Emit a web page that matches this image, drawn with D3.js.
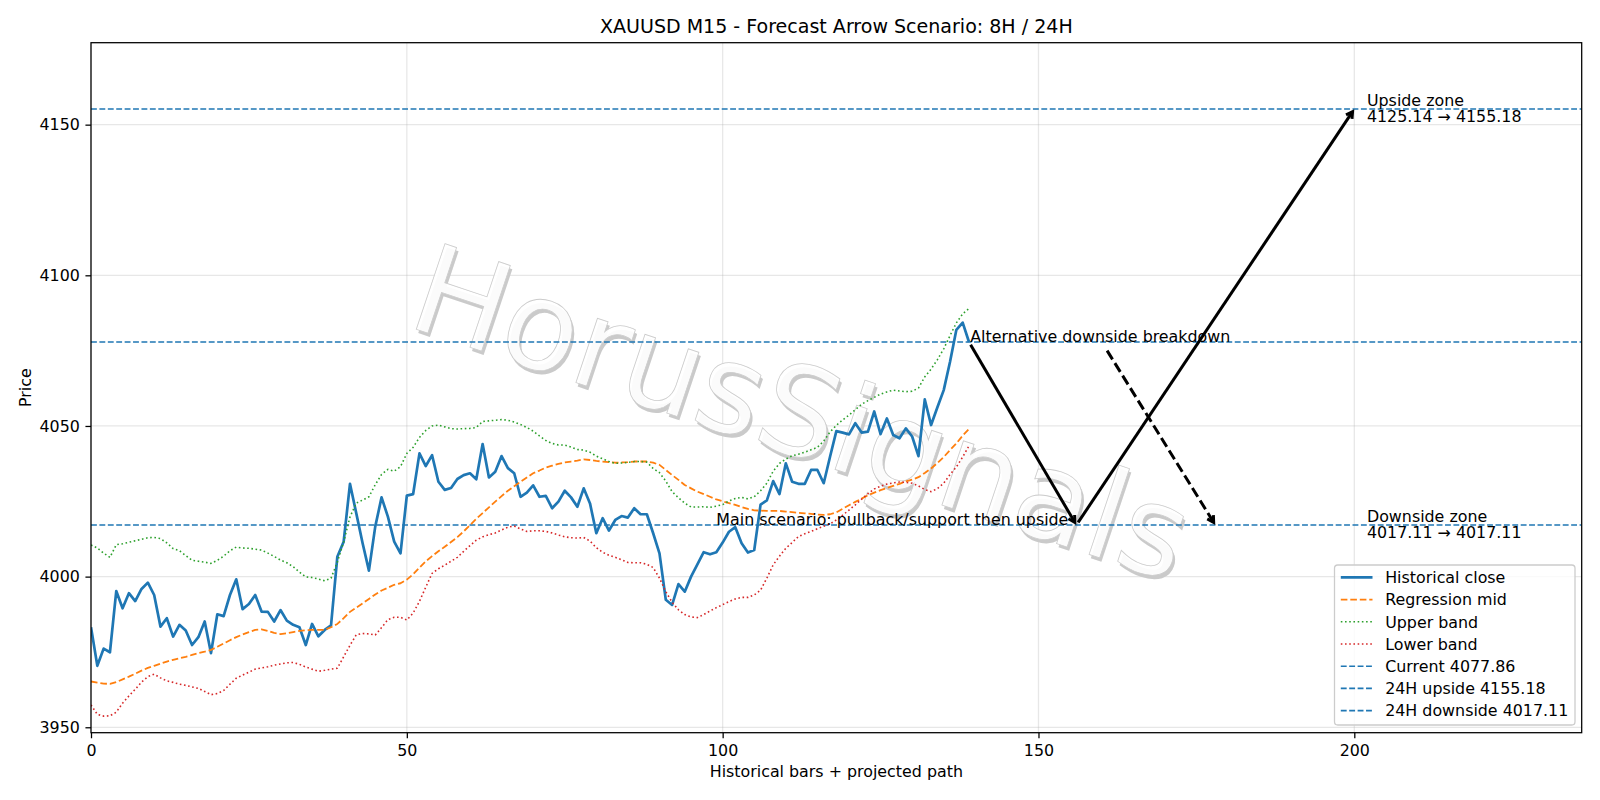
<!DOCTYPE html>
<html>
<head>
<meta charset="utf-8">
<script src="https://cdn.jsdelivr.net/npm/d3@7"></script>
<style>
  body { margin: 0; background: #fff; }
  svg { display: block; }
  text { font-family: 'DejaVu Sans', sans-serif; }
</style>
</head>
<body>
<svg width="1600" height="800"></svg>
<script>
	// ---- data ----
	var closeVals = [3983.2,3970.4,3976.1,3974.9,3995.2,3989.5,3994.5,3991.9,3995.9,3998.0,
		3993.9,3983.4,3986.2,3980.1,3984.0,3982.1,3977.3,3979.9,3985.1,3974.6,
		3987.5,3986.9,3993.9,3999.1,3989.2,3990.9,3993.9,3988.4,3988.3,3985.1,
		3988.9,3985.4,3984.0,3983.2,3977.3,3984.3,3980.2,3982.3,3983.8,4006.6,
		4011.6,4030.8,4021.0,4011.1,4002.0,4016.6,4026.3,4019.9,4011.6,4007.7,
		4026.9,4027.4,4040.9,4036.7,4040.3,4031.5,4028.8,4029.4,4032.4,4033.7,
		4034.3,4032.3,4044.0,4032.9,4034.8,4040.0,4036.0,4034.3,4026.5,4027.9,
		4030.3,4026.5,4026.8,4022.7,4024.9,4028.5,4026.3,4023.2,4029.3,4024.3,
		4014.4,4019.4,4015.3,4018.8,4020.1,4019.6,4022.7,4020.7,4020.7,4014.4,
		4007.7,3992.3,3990.6,3997.5,3995.0,4000.0,4004.1,4008.1,4007.4,4008.1,
		4011.3,4014.9,4016.4,4011.1,4008.0,4008.8,4023.9,4025.3,4031.7,4027.4,
		4037.6,4031.5,4030.8,4030.8,4035.4,4035.4,4031.0,4039.8,4048.3,4047.8,
		4047.2,4050.9,4047.8,4048.1,4054.8,4047.3,4052.5,4047.0,4045.9,4049.2,
		4046.5,4040.0,4058.8,4050.3,4056.2,4061.9,4071.3,4081.9,4084.3,4077.86];

	var midVals = [3965.2,3964.8,3964.5,3964.4,3965.0,3965.9,3966.8,3967.8,3968.8,3969.7,
		3970.4,3971.1,3971.8,3972.4,3972.9,3973.4,3974.0,3974.6,3975.1,3975.7,
		3976.7,3977.8,3978.9,3979.9,3980.8,3981.6,3982.3,3982.5,3982.0,3981.3,
		3980.9,3981.2,3981.6,3982.0,3982.2,3982.3,3982.3,3982.3,3983.2,3984.3,
		3986.2,3988.3,3989.7,3991.1,3992.6,3994.1,3995.4,3996.3,3997.3,3997.8,
		3999.0,4000.8,4003.0,4005.1,4006.8,4008.4,4009.9,4011.5,4013.1,4015.0,
		4017.1,4019.2,4021.1,4023.0,4024.9,4026.7,4028.5,4030.0,4031.5,4032.9,
		4034.3,4035.2,4036.2,4036.8,4037.4,4037.9,4038.2,4038.5,4038.9,4038.7,
		4038.4,4038.2,4038.0,4037.8,4037.9,4038.0,4038.2,4038.2,4038.2,4037.8,
		4037.1,4035.4,4033.7,4032.1,4030.4,4029.3,4028.2,4027.4,4026.5,4025.6,
		4025.0,4024.4,4023.8,4023.1,4022.5,4022.0,4021.9,4021.8,4021.8,4021.8,
		4021.6,4021.4,4021.2,4021.0,4020.8,4020.6,4020.5,4020.7,4021.3,4022.5,
		4023.7,4024.8,4025.9,4027.0,4027.9,4028.7,4029.4,4030.1,4030.8,4031.6,
		4032.2,4033.0,4034.4,4035.9,4037.7,4039.7,4042.0,4044.2,4046.8,4049.0];

	var upperVals = [4010.5,4009.5,4007.8,4006.4,4010.6,4010.9,4011.4,4011.9,4012.4,4012.9,
		4013.0,4012.6,4011.2,4009.3,4008.6,4007.0,4005.4,4005.1,4004.8,4004.4,
		4005.4,4006.8,4008.6,4009.8,4009.5,4009.4,4009.1,4008.8,4007.8,4006.7,
		4005.5,4004.6,4003.3,4001.5,3999.9,3999.7,3999.2,3998.6,3999.5,4004.8,
		4011.5,4019.8,4024.4,4025.4,4026.5,4030.5,4033.9,4035.6,4035.0,4036.5,
		4040.9,4042.9,4046.2,4048.5,4050.0,4050.3,4049.7,4049.1,4049.0,4049.1,
		4049.2,4049.5,4051.5,4051.7,4051.9,4052.1,4051.9,4051.3,4050.5,4049.5,
		4048.3,4046.7,4045.2,4044.2,4043.7,4043.7,4043.0,4042.2,4042.0,4041.3,
		4040.0,4039.1,4038.2,4037.6,4037.7,4037.9,4038.2,4038.2,4038.0,4035.9,
		4034.5,4031.7,4028.2,4026.2,4024.4,4023.1,4023.1,4023.2,4023.0,4023.4,
		4023.9,4025.1,4025.9,4026.3,4025.8,4026.5,4028.5,4031.0,4035.0,4037.6,
		4039.0,4040.1,4040.6,4041.3,4042.1,4042.9,4045.0,4048.0,4050.2,4052.0,
		4053.6,4055.4,4057.2,4058.4,4059.5,4060.6,4061.3,4061.9,4061.6,4061.4,
		4061.5,4062.6,4066.3,4068.9,4072.0,4075.6,4080.0,4084.2,4087.2,4089.0];

	var lowerVals = [3957.4,3954.3,3953.7,3953.8,3955.0,3958.0,3960.4,3962.6,3965.0,3966.8,
		3967.6,3966.4,3965.4,3964.9,3964.3,3963.9,3963.4,3962.9,3961.9,3960.8,
		3961.2,3962.2,3964.3,3966.3,3967.3,3968.3,3969.3,3969.7,3970.1,3970.6,
		3971.0,3971.4,3971.5,3970.9,3970.0,3969.3,3968.6,3968.9,3969.3,3969.6,
		3973.4,3977.2,3980.7,3981.1,3981.0,3980.6,3983.1,3985.7,3986.5,3986.5,
		3985.6,3987.9,3991.8,3996.5,4001.1,4002.6,4003.8,4005.1,4006.4,4008.4,
		4010.3,4012.1,4013.2,4013.9,4014.5,4015.5,4016.4,4016.8,4015.8,4015.0,
		4015.2,4015.2,4015.0,4014.5,4013.8,4013.2,4012.9,4012.8,4013.0,4011.8,
		4009.6,4008.1,4007.1,4006.4,4005.6,4004.7,4004.6,4004.6,4004.1,4003.0,
		3999.5,3995.0,3991.5,3989.0,3987.4,3986.6,3986.4,3987.4,3988.6,3989.7,
		3990.7,3991.7,3992.6,3993.1,3993.1,3993.9,3995.5,3999.5,4003.9,4006.8,
		4009.4,4011.3,4013.3,4014.2,4015.0,4015.9,4016.7,4017.5,4018.8,4020.4,
		4022.1,4023.8,4025.7,4027.5,4029.1,4030.0,4030.7,4031.1,4031.4,4031.3,
		4031.0,4030.1,4028.9,4028.2,4029.2,4031.0,4033.9,4036.4,4039.7,4043.4];

	var currentPrice = 4077.86;
	var upside24 = 4155.18, upsideStart = 4125.14;
	var downside24 = 4017.11, downsideStart = 4017.11;

	var xTicks = [0, 50, 100, 150, 200];
	var yTicks = [3950, 4000, 4050, 4100, 4150];

	// projected path arrows in data coords
	var arrows = [
		{x1: 139, y1: currentPrice, x2: 156, y2: downside24, dashed: false},
		{x1: 156, y1: downside24, x2: 200, y2: upside24, dashed: false},
		{x1: 160.6, y1: 4075.9, x2: 178, y2: downside24, dashed: true}
	];

	var notes = [
		{x: 139.2, y: currentPrice, lines: ['Alternative downside breakdown']},
		{x: 99, y: downside24, lines: ['Main scenario: pullback/support then upside']},
		{x: 202, y: upside24, lines: ['Upside zone', upsideStart.toFixed(2) + ' \u2192 ' + upside24.toFixed(2)], center: true},
		{x: 202, y: downside24, lines: ['Downside zone', downsideStart.toFixed(2) + ' \u2192 ' + downside24.toFixed(2)], center: true}
	];

	// ---- layout ----
	var axL = 91, axR = 1581.7, axT = 42.7, axB = 732.7;
	var fs = 15.87; // 10pt at the figure's dpi

	var svg = d3.select('svg');
	var x = d3.scaleLinear().domain([0, 236]).range([axL, axR]);
	var y = d3.scaleLinear().domain([3948.2, 4177.2]).range([axB, axT]);

	svg.append('defs').append('clipPath').attr('id', 'clip')
		.append('rect').attr('x', axL).attr('y', axT)
		.attr('width', axR - axL).attr('height', axB - axT);

	/* --------- GRID --------- */
	var grid = svg.append('g').attr('stroke', '#b0b0b0').attr('stroke-opacity', 0.3).attr('stroke-width', 1.27);
	grid.selectAll('line.gx').data(xTicks).enter().append('line')
		.attr('x1', function (d) { return x(d); }).attr('x2', function (d) { return x(d); })
		.attr('y1', axT).attr('y2', axB);
	grid.selectAll('line.gy').data(yTicks).enter().append('line')
		.attr('y1', function (d) { return y(d); }).attr('y2', function (d) { return y(d); })
		.attr('x1', axL).attr('x2', axR);

	/* --------- WATERMARK --------- */
	var wm = svg.append('g').attr('transform', 'translate(802,413) rotate(18.5)')
		.attr('font-size', 124).attr('text-anchor', 'middle').attr('dominant-baseline', 'central');
	wm.append('text').attr('x', 3).attr('y', 3).attr('fill', '#cacaca').text('HorusSignals');
	wm.append('text').attr('fill', '#ffffff').attr('fill-opacity', 0.92)
		.attr('stroke', '#cccccc').attr('stroke-width', 0.8).text('HorusSignals');

	/* --------- SERIES --------- */
	var plot = svg.append('g').attr('clip-path', 'url(#clip)');
	var line = d3.line().x(function (d, i) { return x(i); }).y(function (d) { return y(d); });

	var series = [
		{vals: closeVals, color: '#1f77b4', width: 2.7, dash: null},
		{vals: midVals, color: '#ff7f0e', width: 1.8, dash: '6.6,2.9'},
		{vals: upperVals, color: '#2ca02c', width: 1.59, dash: '1.59,2.62'},
		{vals: lowerVals, color: '#d62728', width: 1.59, dash: '1.59,2.62'}
	];

	var levels = [currentPrice, upside24, downside24];
	plot.selectAll('line.level').data(levels).enter().append('line')
		.attr('class', 'level')
		.attr('x1', axL).attr('x2', axR)
		.attr('y1', function (d) { return y(d); }).attr('y2', function (d) { return y(d); })
		.attr('stroke', '#1f77b4').attr('stroke-width', 1.59).attr('stroke-dasharray', '5.87,2.54');

	plot.selectAll('path.series').data(series).enter().append('path')
		.attr('class', 'series')
		.attr('d', function (d) { return line(d.vals); })
		.attr('fill', 'none')
		.attr('stroke', function (d) { return d.color; })
		.attr('stroke-width', function (d) { return d.width; })
		.attr('stroke-dasharray', function (d) { return d.dash; })
		.attr('stroke-linejoin', 'round');

	/* --------- ARROWS --------- */
	var shrink = 3.17, hl = 6.35, hw = 3.6, aw = 3.0;
	arrows.forEach(function (a) {
		var p1 = [x(a.x1), y(a.y1)], p2 = [x(a.x2), y(a.y2)];
		var dx = p2[0] - p1[0], dy = p2[1] - p1[1], len = Math.sqrt(dx * dx + dy * dy);
		var ux = dx / len, uy = dy / len;
		var s = [p1[0] + ux * shrink, p1[1] + uy * shrink];
		var e = [p2[0] - ux * shrink, p2[1] - uy * shrink];
		svg.append('path')
			.attr('d', 'M' + s + 'L' + e)
			.attr('stroke', '#000').attr('stroke-width', aw).attr('fill', 'none')
			.attr('stroke-dasharray', a.dashed ? '10.3,4.4' : null);
		var b = [e[0] - ux * hl, e[1] - uy * hl];
		svg.append('path')
			.attr('d', 'M' + [b[0] - uy * hw, b[1] + ux * hw] + 'L' + e + 'L' + [b[0] + uy * hw, b[1] - ux * hw])
			.attr('stroke', '#000').attr('stroke-width', aw).attr('fill', 'none')
			.attr('stroke-linejoin', 'miter');
	});

	/* --------- NOTES --------- */
	notes.forEach(function (n) {
		var t = svg.append('text').attr('font-size', fs).attr('fill', '#000');
		var by = y(n.y) + (n.center ? -3 : 0);
		n.lines.forEach(function (l, k) {
			t.append('tspan').attr('x', x(n.x)).attr('y', by + k * 16.3).text(l);
		});
	});

	/* --------- AXES --------- */
	svg.append('rect').attr('x', axL).attr('y', axT).attr('width', axR - axL).attr('height', axB - axT)
		.attr('fill', 'none').attr('stroke', '#000').attr('stroke-width', 1.27);

	var xAxis = svg.append('g').attr('transform', 'translate(0,' + axB + ')')
		.call(d3.axisBottom(x).tickValues(xTicks).tickSize(5.56).tickPadding(5.56).tickFormat(d3.format('d')));
	var yAxis = svg.append('g').attr('transform', 'translate(' + axL + ',0)')
		.call(d3.axisLeft(y).tickValues(yTicks).tickSize(5.56).tickPadding(5.56).tickFormat(d3.format('d')));
	[xAxis, yAxis].forEach(function (g) {
		g.select('.domain').remove();
		g.selectAll('.tick line').attr('stroke', '#000').attr('stroke-width', 1.27);
		g.selectAll('.tick text').attr('font-size', fs).attr('fill', '#000')
			.attr('font-family', "'DejaVu Sans', sans-serif");
	});
	xAxis.selectAll('.tick text').attr('dy', '0.74em');

	svg.append('text').attr('x', (axL + axR) / 2).attr('y', 776.5).attr('text-anchor', 'middle')
		.attr('font-size', fs).text('Historical bars + projected path');
	svg.append('text').attr('transform', 'translate(31.3,' + (axT + axB) / 2 + ') rotate(-90)')
		.attr('text-anchor', 'middle').attr('font-size', fs).text('Price');
	svg.append('text').attr('x', (axL + axR) / 2).attr('y', 33.3).attr('text-anchor', 'middle')
		.attr('font-size', 19.05).text('XAUUSD M15 - Forecast Arrow Scenario: 8H / 24H');

	/* --------- LEGEND --------- */
	var legendItems = [
		{label: 'Historical close', color: '#1f77b4', width: 2.7, dash: null},
		{label: 'Regression mid', color: '#ff7f0e', width: 1.8, dash: '6.6,2.9'},
		{label: 'Upper band', color: '#2ca02c', width: 1.59, dash: '1.59,2.62'},
		{label: 'Lower band', color: '#d62728', width: 1.59, dash: '1.59,2.62'},
		{label: 'Current ' + currentPrice.toFixed(2), color: '#1f77b4', width: 1.59, dash: '5.87,2.54'},
		{label: '24H upside ' + upside24.toFixed(2), color: '#1f77b4', width: 1.59, dash: '5.87,2.54'},
		{label: '24H downside ' + downside24.toFixed(2), color: '#1f77b4', width: 1.59, dash: '5.87,2.54'}
	];
	var lg = svg.append('g');
	lg.append('rect').attr('x', 1334.5).attr('y', 565).attr('width', 240.5).attr('height', 160)
		.attr('rx', 3.2).attr('fill', '#fff').attr('fill-opacity', 0.8)
		.attr('stroke', '#cccccc').attr('stroke-width', 1.27);
	var rows = lg.selectAll('g.row').data(legendItems).enter().append('g')
		.attr('transform', function (d, i) { return 'translate(0,' + (577.4 + i * 22.2) + ')'; });
	rows.append('line').attr('x1', 1340.8).attr('x2', 1372.5).attr('y1', 0).attr('y2', 0)
		.attr('stroke', function (d) { return d.color; })
		.attr('stroke-width', function (d) { return d.width; })
		.attr('stroke-dasharray', function (d) { return d.dash; });
	rows.append('text').attr('x', 1385.2).attr('y', 5.7).attr('font-size', fs).text(function (d) { return d.label; });
</script>
</body>
</html>
